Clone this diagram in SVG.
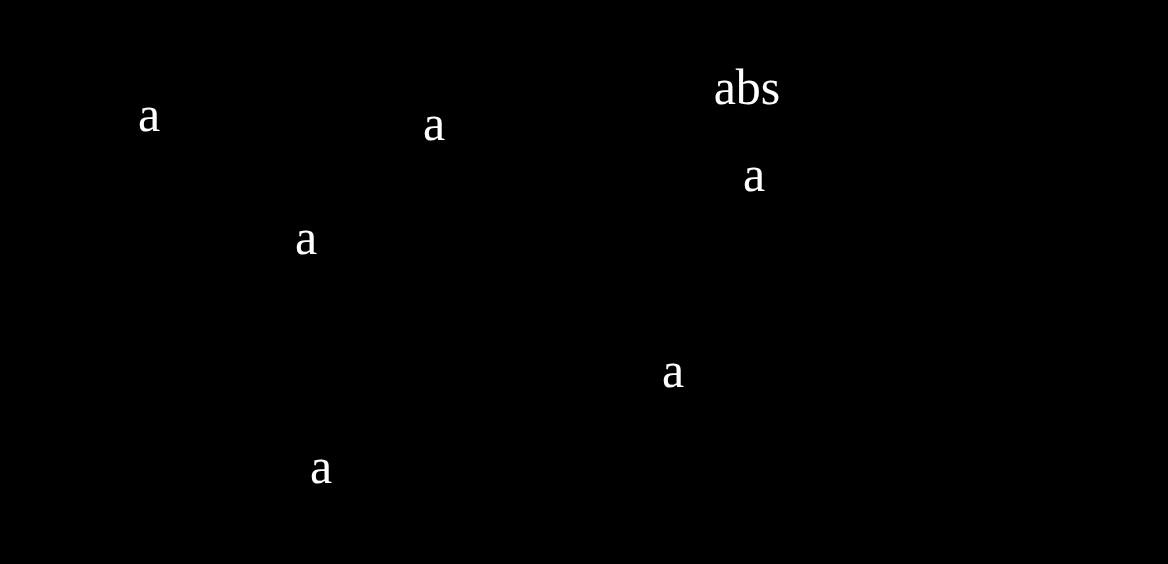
<svg xmlns="http://www.w3.org/2000/svg" width="1168" height="564" viewBox="0 0 1168 564">
<style>
text { font-family: "Liberation Serif", "Times New Roman", serif; font-size: 50px; fill: #ffffff; text-anchor: middle; }
</style>
<rect x="0" y="0" width="1168" height="564" fill="#000000"/>
<g id="label-1"><text x="149" y="131">a</text></g>
<g id="label-2"><text x="434" y="140">a</text></g>
<g id="label-3"><text x="306" y="254">a</text></g>
<g id="label-abs"><text x="747" y="104">abs</text></g>
<g id="label-4"><text x="754" y="191">a</text></g>
<g id="label-5"><text x="673" y="387">a</text></g>
<g id="label-6"><text x="321" y="483">a</text></g>
</svg>
